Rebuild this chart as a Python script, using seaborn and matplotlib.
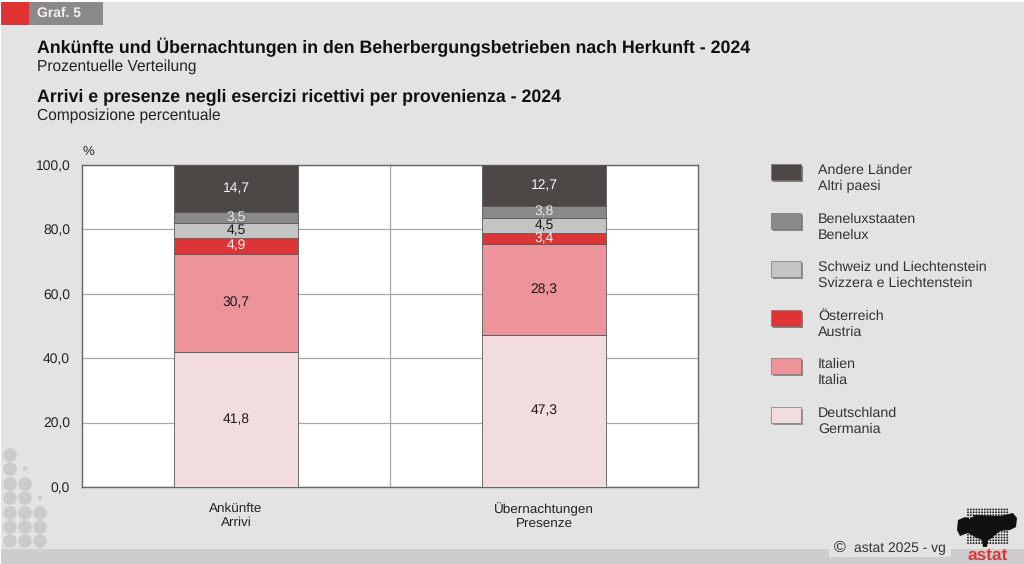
import numpy as np
import pandas as pd
import matplotlib.pyplot as plt
from matplotlib.patches import Rectangle, Circle, Polygon
import matplotlib.patheffects as pe
import seaborn as sns

categories = ["Ankünfte\nArrivi", "Übernachtungen\nPresenze"]

# bottom to top
series_names = ["Deutschland\nGermania", "Italien\nItalia", "Österreich\nAustria",
                "Schweiz und Liechtenstein\nSvizzera e Liechtenstein",
                "Beneluxstaaten\nBenelux", "Andere Länder\nAltri paesi"]
germany = [41.8, 47.3]
italy = [30.7, 28.3]
austria = [4.9, 3.4]
swiss = [4.5, 4.5]
benelux = [3.5, 3.8]
others = [14.7, 12.7]

colors = ["#f2dcde", "#ec9499", "#dd3535", "#c4c4c4", "#8a8888", "#4d4845"]
label_colors = ["#1a1a1a", "#1a1a1a", "#f5f5f5", "#1a1a1a", "#e8e8e8", "#f5f5f5"]

BG = "#e3e3e3"
TXT = "#222222"

sns.set_theme(style="white")
plt.rcParams["font.family"] = ["Liberation Sans", "DejaVu Sans"]
plt.rcParams["text.hinting"] = "none"

W, H = 1024, 564
fig = plt.figure(figsize=(W / 100, H / 100), dpi=100, facecolor="white")

# overlay in pixel coordinates for the page furniture
page = fig.add_axes([0, 0, 1, 1], zorder=0)
page.set_xlim(0, W)
page.set_ylim(H, 0)
page.axis("off")

page.add_patch(Rectangle((1, 2), W - 1, H - 2, fc=BG, ec="none"))
page.add_patch(Rectangle((1, 549), W - 1, 15, fc="#cecccc", ec="none"))
page.add_patch(Rectangle((1, 2), 28, 23, fc="#e03434", ec="none"))
page.add_patch(Rectangle((29, 2), 74, 23, fc="#8b8989", ec="none"))
page.text(37, 13.5, "Graf. 5", color="#f0f0f0", fontsize=10, fontweight="bold", va="center")

page.text(37, 47.5, "Ankünfte und Übernachtungen in den Beherbergungsbetrieben nach Herkunft - 2024",
          color="#111111", fontsize=12.74, fontweight="bold", va="center")
page.text(37, 66.5, "Prozentuelle Verteilung", color=TXT, fontsize=11.2, va="center")
page.text(37, 96.5, "Arrivi e presenze negli esercizi ricettivi per provenienza - 2024",
          color="#111111", fontsize=12.74, fontweight="bold", va="center")
page.text(37, 116, "Composizione percentuale", color=TXT, fontsize=11.2, va="center")
page.text(88, 152, "%", color=TXT, fontsize=9.5, ha="center", va="center")

# dots bottom left
dot_rows = [455, 469, 484, 498, 513, 527, 541]
for i, y in enumerate(dot_rows):
    for x, first in zip([10, 25, 40], [0, 2, 4]):
        if i >= first:
            page.add_patch(Circle((x, y), 6.8, fc="#cbcbcb", ec="none"))
page.add_patch(Circle((25, 469), 2.4, fc="#cbcbcb", ec="none"))
page.add_patch(Circle((40, 498), 2.4, fc="#cbcbcb", ec="none"))

# copyright box and logo
page.add_patch(Rectangle((829, 540), 122, 17, fc=BG, ec="none"))
page.text(834, 548, "©", color=TXT, fontsize=11.5, va="center")
page.text(854, 548, "astat 2025 - vg", color="#333333", fontsize=10, va="center")

for gx in np.arange(968, 1008, 2.8):
    for gy in np.arange(509.5, 545, 2.8):
        page.add_patch(Circle((gx, gy), 0.95, fc="#222222", ec="none"))
page.add_patch(Polygon([(958, 520), (965, 517), (970, 519), (975, 515), (1000, 516), (1013, 513),
                        (1017, 518), (1016, 527), (1010, 530), (1000, 531), (995, 535), (992, 538),
                        (988, 540), (987, 547), (983, 547), (982, 540), (975, 537), (968, 533),
                        (960, 536), (957, 530)],
                       fc="#111111", ec="none"))
page.text(987.5, 555.5, "astat", color="#d83a3a", fontsize=12.4, fontweight="bold",
          ha="center", va="center")

# legend, top entry first
legend_y = [172, 220.5, 269, 317.5, 366, 414.5]
for y, name, color in zip(legend_y, series_names[::-1], colors[::-1]):
    page.add_patch(Rectangle((771, y - 8), 30, 16, fc=color, ec="#777777", lw=0.5,
                             path_effects=[pe.SimplePatchShadow(offset=(1.5, -1.5), alpha=0.5),
                                           pe.Normal()]))
    line1, line2 = name.split("\n")
    page.text(818, y - 1.5, line1, color="#333333", fontsize=10.3, va="center")
    page.text(818, y + 14.5, line2, color="#333333", fontsize=10.3, va="center")

# chart
ax = fig.add_axes([82 / W, 1 - 487 / H, (698 - 82) / W, (487 - 165) / H], zorder=1)
ax.set_facecolor("white")

values = [germany, italy, austria, swiss, benelux, others]
bottom = np.zeros(len(categories))
for name, vals, color, lab_col in zip(series_names, values, colors, label_colors):
    df = pd.DataFrame({"cat": categories, "val": vals})
    sns.barplot(data=df, x="cat", y="val", bottom=bottom, color=color, saturation=1,
                width=0.403, edgecolor="#5a5a5a", linewidth=0.6, ax=ax, zorder=3)
    ax.bar_label(ax.containers[-1], labels=[f"{v:.1f}".replace(".", ",") for v in vals],
                 label_type="center", color=lab_col, fontsize=10, zorder=4)
    bottom = bottom + np.array(vals)

ax.set_xlim(-0.5, 1.5)
ax.set_ylim(0, 100)
ax.set_yticks([0, 20, 40, 60, 80, 100])
ax.set_yticklabels([f"{v:.1f}".replace(".", ",") for v in [0, 20, 40, 60, 80, 100]],
                   color=TXT, fontsize=10)
ax.set_xticks([0, 1])
ax.set_xticklabels(categories, color=TXT, fontsize=9.7, linespacing=1.25)
ax.set_xlabel("")
ax.set_ylabel("")
ax.tick_params(axis="x", length=0, pad=11)
ax.tick_params(axis="y", length=0, pad=8.5)
ax.yaxis.grid(True, color="#a8a8a8", lw=0.9, zorder=1)
ax.axvline(0.5, color="#a8a8a8", lw=0.9, zorder=1)
ax.set_axisbelow(True)
for s in ax.spines.values():
    s.set_color("#666666")
    s.set_linewidth(1.0)

fig.savefig("out.png", dpi=100, facecolor=fig.get_facecolor())
